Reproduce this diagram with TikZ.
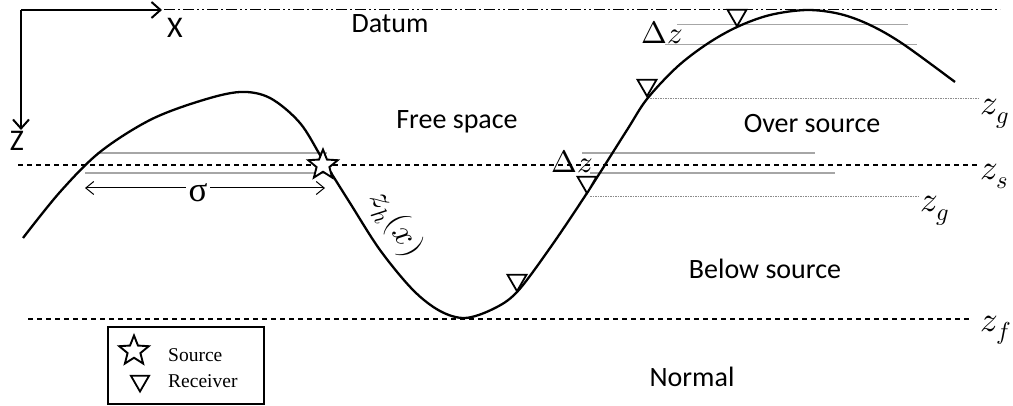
\documentclass[tikz,border=0pt]{standalone}
\usepackage{fontspec}
\usepackage{unicode-math}
\setmainfont{Liberation Serif}
\setmathfont{Latin Modern Math}
\newfontfamily\labfont{Carlito}
\usetikzlibrary{shapes.geometric,arrows.meta}
\tikzset{
  curveline/.style={line width=2.3pt,black},
  levelline/.style={line width=1.1pt,dash pattern=on 5pt off 4pt},
  grayline/.style={line width=1.3pt,black!35},
  dotline/.style={line width=0.7pt,black!45,dash pattern=on 1.5pt off 1pt},
  region/.style={font=\labfont\fontsize{28}{30}\selectfont,inner sep=0pt},
  mathlab/.style={font=\fontsize{35}{37}\selectfont,inner sep=0pt,anchor=base west},
  receiver/.style={regular polygon,regular polygon sides=3,shape border rotate=180,
    draw,line width=1.8pt,fill=white,minimum size=22pt,inner sep=0pt,anchor=corner 1},
  source/.style={star,star points=5,star point ratio=2.3,draw,line width=1.9pt,fill=white,
    minimum size=31pt,inner sep=0pt},
  axisline/.style={line width=2pt,-{Straight Barb[length=9pt,width=16pt,line width=2pt]}},
}
\begin{document}
\begin{tikzpicture}[x=1pt,y=-1pt]
\useasboundingbox (0,0) rectangle (1013,406);
% coordinates
\coordinate (o) at (21,10);
\coordinate (xe) at (162,10);
\coordinate (ze) at (21,130);
% axes
\draw[axisline] (o) -- (xe);
\draw[axisline] (o) -- (ze);
\node[font=\labfont\fontsize{30}{30}\selectfont,inner sep=0pt] (xl) at (175,28) {X};
\node[font=\labfont\fontsize{30}{30}\selectfont,inner sep=0pt] (zl) at (17,141) {Z};
% datum line
\coordinate (d1) at (164,10);
\coordinate (d2) at (1000,10);
\draw[line width=1pt,dash pattern=on 11pt off 3pt on 2pt off 3pt on 11pt off 3pt on 2pt off 3pt on 2pt off 3pt] (d1) -- (d2);
\node[region] (datum) at (390,24) {Datum};
% gray level lines
\coordinate (g1a) at (97,153); \coordinate (g1b) at (327,153);
\coordinate (g2a) at (85,173); \coordinate (g2b) at (333,173);
\draw[grayline] (g1a) -- (g1b);
\draw[grayline] (g2a) -- (g2b);
\coordinate (g3a) at (582,153); \coordinate (g3b) at (815,153);
\coordinate (g4a) at (590,173); \coordinate (g4b) at (835,173);
\draw[grayline] (g3a) -- (g3b);
\draw[grayline] (g4a) -- (g4b);
\coordinate (g5a) at (677,25); \coordinate (g5b) at (908,25);
\coordinate (g6a) at (665,45); \coordinate (g6b) at (917,45);
\draw[grayline,line width=1pt] (g5a) -- (g5b);
\draw[grayline,line width=1pt] (g6a) -- (g6b);
% dotted zg lines
\coordinate (zg1a) at (650,98); \coordinate (zg1b) at (980,98);
\coordinate (zg2a) at (590,196); \coordinate (zg2b) at (918,196);
\draw[dotline] (zg1a) -- (zg1b);
\draw[dotline] (zg2a) -- (zg2b);
% dashed levels
\coordinate (zsa) at (18,165); \coordinate (zsb) at (977,165);
\coordinate (zfa) at (28,319); \coordinate (zfb) at (972,319);
\draw[levelline] (zsa) -- (zsb);
\draw[levelline] (zfa) -- (zfb);
% topography curve
\draw[curveline] plot[smooth,tension=0.55] coordinates {
 (23,238) (60,192) (100,152) (150,120) (200,101) (240,92) (270,98) (300,123)
 (323,160) (350,203) (380,250) (413,290) (440,311) (465,318) (493,309) (517,292)
 (550,248) (587,193) (627,130) (647,99) (677,67) (707,44) (737,27) (770,15) (807,10)
 (840,14) (870,25) (903,44) (955,82)};
% sigma arrow
\coordinate (sa) at (85,188); \coordinate (sb) at (325,188);
\draw[line width=1pt,{Straight Barb[length=8pt,width=13pt]}-{Straight Barb[length=8pt,width=13pt]}] (sa) -- (sb);
\node[fill=white,inner xsep=3pt,inner ysep=1pt,font=\fontsize{35}{35}\selectfont] (sigma) at (198,193) {σ};
% source and receivers
\node[source] (src) at (323,165) {};
\node[receiver] (r1) at (737,28) {};
\node[receiver] (r2) at (647,98) {};
\node[receiver] (r3) at (587,195) {};
\node[receiver] (r4) at (517,293) {};
% labels
\node[font=\fontsize{33}{35}\selectfont,inner sep=0pt,rotate=-58] (zh) at (396,224) {$z_h(x)$};
\node[font=\fontsize{31}{33}\selectfont,inner sep=0pt] (dz1) at (662,33) {$\Delta z$};
\node[font=\fontsize{31}{33}\selectfont,inner sep=0pt] (dz2) at (572,162) {$\Delta z$};
\node[mathlab] (zg1) at (980,115) {$z_g$};
\node[mathlab] (zs) at (980,180) {$z_s$};
\node[mathlab] (zg2) at (920,212) {$z_g$};
\node[mathlab] (zf) at (980,331) {$z_f$};
\node[region] (free) at (457,122) {Free space};
\node[region] (over) at (812,124) {Over source};
\node[region] (below) at (765,269) {Below source};
\node[region] (normal) at (692,377) {Normal};
% legend
\node[draw,line width=1.2pt,minimum width=156pt,minimum height=77pt,inner sep=0pt] (legend) at (186,365.5) {};
\node[source,minimum size=31pt] (lsrc) at (134,351) {};
\node[regular polygon,regular polygon sides=3,shape border rotate=180,draw,line width=1.8pt,minimum size=21pt,inner sep=0pt] (lrec) at (140,381) {};
\node[anchor=base west,inner sep=0pt,font=\fontsize{19.5}{21}\selectfont] (lsrct) at (168,362) {Source};
\node[anchor=base west,inner sep=0pt,font=\fontsize{19.5}{21}\selectfont] (lrect) at (168,387) {Receiver};
\end{tikzpicture}
\end{document}
